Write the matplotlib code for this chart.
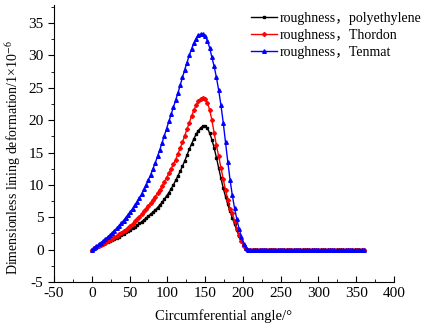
import numpy as np
import matplotlib
matplotlib.use("Agg")
from matplotlib import pyplot as plt
from matplotlib.ticker import MultipleLocator

# angulo cada 3 grados, 0..204 con valores, despues todo cero hasta 360
ang = np.arange(0, 361, 3)

poly_sube = [0, 0.15, 0.3, 0.5, 0.65, 0.8, 1.0, 1.15, 1.3, 1.5, 1.65, 1.85, 2.0, 2.2,
             2.45, 2.65, 2.85, 3.05, 3.3, 3.5, 3.75, 4.05, 4.3, 4.6, 4.9, 5.2, 5.5, 5.8,
             6.15, 6.5, 6.9, 7.3, 7.8, 8.3, 8.8, 9.4, 10.0, 10.7, 11.4, 12.1, 12.9, 13.7,
             14.6, 15.5, 16.3, 17.1, 17.8, 18.4, 18.8, 19.1, 19.1, 18.8, 18.0, 17.0, 15.7,
             14.2, 12.6, 11.0, 9.5, 8.2, 7.0, 5.9, 4.9, 3.9, 3.0, 2.1, 1.3, 0.6, 0.1]
thordon_sube = [0, 0.2, 0.35, 0.55, 0.75, 0.9, 1.1, 1.3, 1.5, 1.7, 1.9, 2.1, 2.35, 2.6,
                2.85, 3.1, 3.4, 3.7, 4.0, 4.35, 4.7, 5.1, 5.5, 5.9, 6.3, 6.8, 7.2, 7.7,
                8.2, 8.7, 9.2, 9.8, 10.5, 11.1, 11.8, 12.5, 13.2, 13.9, 14.8, 15.7, 16.6,
                17.6, 18.6, 19.6, 20.6, 21.5, 22.3, 22.9, 23.3, 23.5, 23.3, 22.7, 21.6,
                20.0, 18.0, 16.1, 14.4, 12.6, 10.9, 9.2, 7.7, 6.3, 5.6, 4.4, 3.2, 2.2, 1.3,
                0.5, 0.1]
tenmat_sube = [0, 0.25, 0.5, 0.8, 1.05, 1.35, 1.65, 1.95, 2.25, 2.6, 2.95, 3.3, 3.7, 4.1,
               4.5, 4.95, 5.4, 5.85, 6.35, 6.9, 7.4, 8.0, 8.6, 9.3, 10.0, 10.8, 11.6, 12.5,
               13.4, 14.4, 15.4, 16.5, 17.6, 18.7, 19.8, 20.9, 22.0, 23.1, 24.2, 25.4,
               26.6, 27.8, 28.9, 30.0, 31.0, 31.9, 32.6, 33.1, 33.3, 33.3, 33.0, 32.3,
               31.2, 29.7, 28.3, 26.6, 24.6, 22.3, 19.6, 16.6, 13.6, 10.8, 8.4, 6.4, 4.7,
               3.2, 2.0, 0.9, 0.2]

ceros = [0] * (len(ang) - len(poly_sube))
poly = poly_sube + ceros
thordon = thordon_sube + ceros
tenmat = tenmat_sube + ceros

plt.rcParams['font.family'] = ['Liberation Serif', 'Noto Sans CJK SC']
plt.rcParams['mathtext.fontset'] = 'stix'
plt.rcParams['axes.unicode_minus'] = False
plt.rcParams['font.size'] = 10

fig = plt.figure(figsize=(4.22, 3.29), dpi=100)
ax = fig.add_axes([54/422, 47/329, 340/422, 277/329])

ax.plot(ang, poly, marker='s', markersize=2, color='black', linewidth=1,
        label="roughness，polyethylene")
ax.plot(ang, thordon, marker='P', markersize=2.5, color='red', linewidth=1,
        label="roughness，Thordon")
ax.plot(ang, tenmat, marker='^', markersize=2.6, color='blue', linewidth=1,
        label="roughness，Tenmat")

ax.set_xlim(-50, 400)
ax.set_ylim(-5, 37.8)
ax.xaxis.set_major_locator(MultipleLocator(50))
ax.xaxis.set_minor_locator(MultipleLocator(25))
ax.yaxis.set_major_locator(MultipleLocator(5))
ax.yaxis.set_minor_locator(MultipleLocator(2.5))
ax.tick_params(axis='x', which='both', direction='in')
ax.tick_params(axis='y', which='both', direction='out')
ax.tick_params(which='major', length=4, labelsize=11)
ax.tick_params(which='minor', length=2)
ax.spines['top'].set_visible(False)
ax.spines['right'].set_visible(False)

ax.set_xlabel('Circumferential angle/°', fontsize=10.5)
ax.set_ylabel('Dimensionless lining deformation/1×10$^{-6}$', fontsize=10)
ax.xaxis.set_label_coords(0.5, -0.1)
ax.yaxis.set_label_coords(-0.09, 0.448)

fig.legend(loc='upper left', bbox_to_anchor=(244/422, 1 - 5/329), frameon=False,
           numpoints=1, handlelength=1.9, handletextpad=0.2, borderpad=0,
           labelspacing=0.3, fontsize=10)

fig.savefig('out.png', dpi=100)
